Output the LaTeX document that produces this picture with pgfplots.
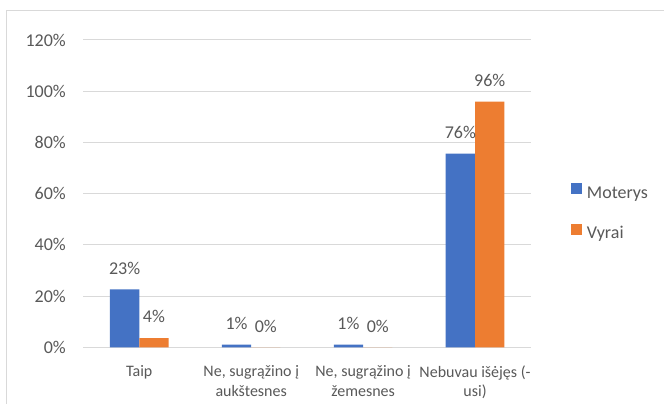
\documentclass[border=0pt]{standalone}
\usepackage{pgfplots}
\pgfplotsset{compat=1.18}
\usepackage{fontspec}
\setmainfont{Carlito}
\definecolor{cblue}{HTML}{4472C4}
\definecolor{corange}{HTML}{ED7D31}
\definecolor{ctext}{HTML}{595959}
\definecolor{cgrid}{HTML}{D9D9D9}
\begin{document}
\begin{tikzpicture}
\useasboundingbox (0,0) rectangle (664bp,404bp);
\fill[white] (0,0) rectangle (664bp,404bp);
\draw[cgrid, line width=1.2bp] (6.5bp,0bp) -- (6.5bp,393.5bp) -- (664bp,393.5bp);
\begin{axis}[
  at={(83.3bp,56.7bp)}, anchor=south west,
  scale only axis, width=447.7bp, height=307.3bp,
  ymin=0, ymax=120, ytick={0,20,40,60,80,100,120},
  xmin=-0.5, xmax=3.5, xtick={0,1,2,3},
  xticklabels={Taip, {Ne, sugrąžino į\\aukštesnes}, {Ne, sugrąžino į\\žemesnes}, {Nebuvau išėjęs (-\\usi)}},
  ybar=0pt, bar width=29.3bp,
  axis line style={draw=none}, tick style={draw=none},
  ymajorgrids, grid style={cgrid, line width=1bp},
  /pgf/number format/assume math mode=true,
  yticklabel={\pgfmathprintnumber[fixed,precision=0]{\tick}\%},
  yticklabel style={anchor=east, inner sep=0pt, xshift=-17.3bp, text=ctext, font=\fontsize{18bp}{20bp}\selectfont},
  xticklabel style={anchor=north, inner sep=0pt, yshift=-14bp, align=center, text=ctext, font=\fontsize{16bp}{19.5bp}\selectfont},
  nodes near coords={\pgfmathprintnumber[fixed,precision=0]{\pgfplotspointmeta}\%},
  every node near coord/.append style={anchor=base, inner sep=0pt, yshift=15.2bp, text=ctext, font=\fontsize{18bp}{20bp}\selectfont},
  legend image code/.code={\fill[#1] (0bp,0.3bp) rectangle (11bp,11.3bp);},
  legend style={at={(1.0887,0.4362)}, anchor=west, draw=none, fill=none, inner sep=0pt,
    row sep=20.5bp, column sep=5bp, text=ctext, font=\fontsize{18bp}{20bp}\selectfont,
    nodes={inner sep=0pt, text height=13bp, text depth=5bp}},
  legend cell align=left,
  clip=false,
]
\addplot[fill=cblue, draw=none] coordinates {(0,22.6) (1,1) (2,1) (3,75.6)};
\addplot[fill=corange, draw=none] coordinates {(0,3.6) (1,0) (2,0) (3,95.9)};
\legend{Moterys, Vyrai}
\end{axis}
\end{tikzpicture}
\end{document}
